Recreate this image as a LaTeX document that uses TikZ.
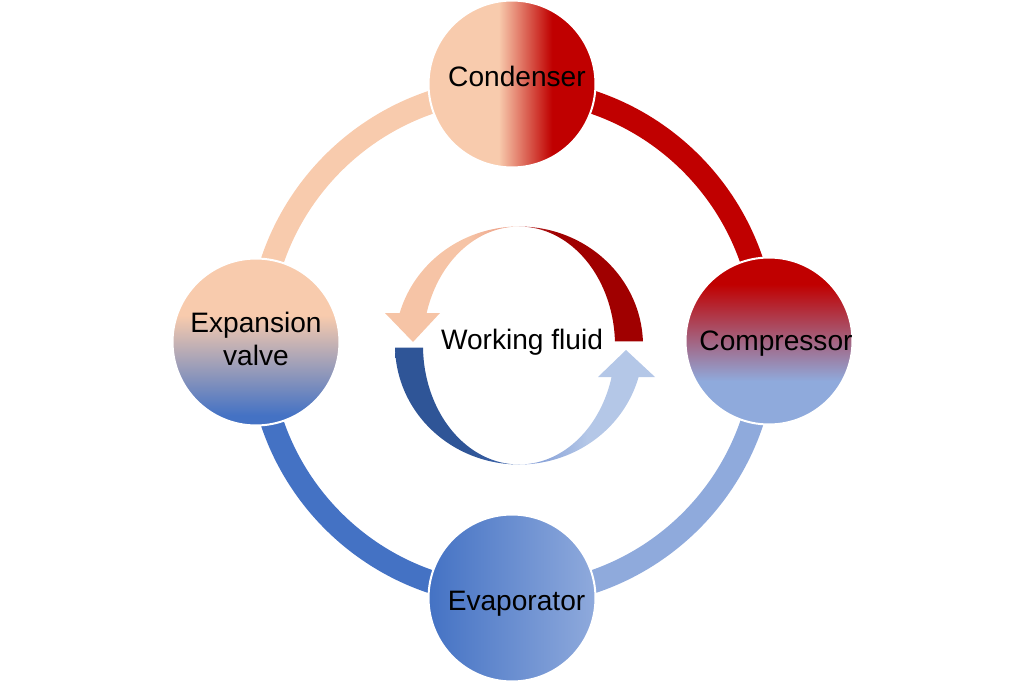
\documentclass[tikz,border=0pt]{standalone}
\usepackage{fontspec}
\setmainfont{Liberation Sans}
\usetikzlibrary{calc}

% palette of the outer loop
\definecolor{cpeach}{HTML}{F8CBAD}
\definecolor{cred}{HTML}{C00000}
\definecolor{cblue}{HTML}{4472C4}
\definecolor{cltblue}{HTML}{8FAADC}
% palette of the inner fluid loop
\definecolor{fdarkred}{HTML}{A00000}
\definecolor{fredtip}{HTML}{BC3434}
\definecolor{fsalmon}{HTML}{E8937D}
\definecolor{fpeach}{HTML}{F6C4A6}
\definecolor{fnavy}{HTML}{2F5597}
\definecolor{fmidblue}{HTML}{4269B0}
\definecolor{fpale}{HTML}{B4C7E7}
\definecolor{ftipblue}{HTML}{7592D2}

% component fills
\pgfdeclarehorizontalshading{condfill}{100bp}{color(0bp)=(cpeach); color(46bp)=(cpeach); color(62bp)=(cred); color(100bp)=(cred)}
\pgfdeclareverticalshading{compfill}{100bp}{color(0bp)=(cltblue); color(38bp)=(cltblue); color(67bp)=(cred); color(100bp)=(cred)}
\pgfdeclareverticalshading{expfill}{100bp}{color(0bp)=(cblue); color(28bp)=(cblue); color(58bp)=(cpeach); color(100bp)=(cpeach)}
\pgfdeclarehorizontalshading{evapfill}{100bp}{color(0bp)=(cblue); color(25bp)=(cblue); color(75bp)=(cltblue); color(100bp)=(cltblue)}
% fluid arrow fills
\pgfdeclarehorizontalshading{redflow}{100bp}{color(0bp)=(fredtip); color(25bp)=(fredtip); color(40bp)=(fdarkred); color(100bp)=(fdarkred)}
\pgfdeclarehorizontalshading{peachflow}{100bp}{color(0bp)=(fpeach); color(56bp)=(fpeach); color(75bp)=(fsalmon); color(100bp)=(fsalmon)}
\pgfdeclarehorizontalshading{navyflow}{100bp}{color(0bp)=(fnavy); color(55bp)=(fnavy); color(75bp)=(fmidblue); color(100bp)=(fmidblue)}
\pgfdeclarehorizontalshading{paleflow}{100bp}{color(0bp)=(ftipblue); color(25bp)=(ftipblue); color(50bp)=(fpale); color(100bp)=(fpale)}

\begin{document}
\begin{tikzpicture}[x=0.02cm, y=0.02cm,
  ring/.style={line width=0.46cm},
  ball/.style={circle, minimum size=3.34cm, inner sep=0pt, draw=white, line width=0.04cm, shade},
  lbl/.style={font=\fontsize{16}{18.9}\selectfont, text=black, inner sep=0pt, align=center},
  flowlbl/.style={font=\fontsize{16}{18.9}\selectfont, text=black, inner sep=0pt}]
\useasboundingbox (0,0) rectangle (1024,684);

\coordinate (hub) at (512,342);

% outer loop, one quarter per stage
\draw[ring, cred]    ($(hub)+(90:253)$)  arc[start angle=90,  end angle=0,   radius=253];
\draw[ring, cpeach]  ($(hub)+(90:253)$)  arc[start angle=90,  end angle=180, radius=253];
\draw[ring, cblue]   ($(hub)+(180:253)$) arc[start angle=180, end angle=270, radius=253];
\draw[ring, cltblue] ($(hub)+(270:253)$) arc[start angle=270, end angle=360, radius=253];

% components
\node[ball, shading=condfill] (cond) at ($(hub)+(0,258)$)  {};
\node[ball, shading=compfill] (comp) at ($(hub)+(257,1)$)  {};
\node[ball, shading=evapfill] (evap) at ($(hub)+(0,-256)$) {};
\node[ball, shading=expfill]  (expv) at ($(hub)+(-256,0)$) {};

\node[lbl, anchor=base] (condtxt) at (517,597.5) {Condenser};
\node[lbl, anchor=base] (comptxt) at (776,334) {Compressor};
\node[lbl, anchor=base] (evaptxt) at (516.5,74) {Evaporator};
\node[lbl] (exptxt) at (256,345) {Expansion\\valve};

% inner fluid loop: four crescent arrows between an outer ellipse
% (124 x 119) and an inner ellipse (96 x 119) touching it at top and bottom
\begin{scope}[shift={(519,338.5)}]
  \shade[shading=redflow]
    plot[domain=90:2, samples=60] ({124*cos(\x)}, {119*sin(\x)})
    -- plot[domain=2:90, samples=60] ({96*cos(\x)}, {119*sin(\x)})
    -- cycle;
  \shade[shading=peachflow]
    plot[domain=90:164.15, samples=60] ({124*cos(\x)}, {119*sin(\x)})
    -- (-134,32.5) -- (-106,3.5) -- (-79,32.5)
    -- plot[domain=164.15:90, samples=60] ({96*cos(\x)}, {119*sin(\x)})
    -- cycle;
  \shade[shading=navyflow]
    plot[domain=181:270, samples=60] ({124*cos(\x)}, {119*sin(\x)})
    -- plot[domain=270:181, samples=60] ({96*cos(\x)}, {119*sin(\x)})
    -- cycle;
  \shade[shading=paleflow]
    plot[domain=270:344.65, samples=60] ({124*cos(\x)}, {119*sin(\x)})
    -- (136,-31.5) -- (107,-4.5) -- (79,-31.5)
    -- plot[domain=344.65:270, samples=60] ({96*cos(\x)}, {119*sin(\x)})
    -- cycle;
\end{scope}

\node[flowlbl, anchor=base] (fluid) at (522,334.5) {Working fluid};
\end{tikzpicture}
\end{document}
